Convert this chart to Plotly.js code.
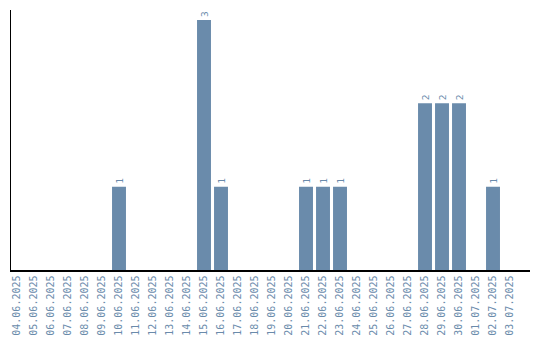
<!DOCTYPE html>
<html><head><meta charset="utf-8">
<script src="https://cdn.plot.ly/plotly-3.0.1.min.js"></script>
<style>html,body{margin:0;padding:0;background:#fff}#c{width:540px;height:340px}</style>
</head><body><div id="c"></div>
<script>
const dates = ["04.06.2025","05.06.2025","06.06.2025","07.06.2025","08.06.2025","09.06.2025","10.06.2025","11.06.2025","12.06.2025","13.06.2025","14.06.2025","15.06.2025","16.06.2025","17.06.2025","18.06.2025","19.06.2025","20.06.2025","21.06.2025","22.06.2025","23.06.2025","24.06.2025","25.06.2025","26.06.2025","27.06.2025","28.06.2025","29.06.2025","30.06.2025","01.07.2025","02.07.2025","03.07.2025"];
const counts = [0,0,0,0,0,0,1,0,0,0,0,3,1,0,0,0,0,1,1,1,0,0,0,0,2,2,2,0,1,0];
const labels = counts.map(v => v > 0 ? String(v) : "");
const color = "#6a8bab";
Plotly.newPlot("c", [{
  type: "bar", x: dates, y: counts, marker: {color: color},
  text: labels, textposition: "outside", textangle: -90, cliponaxis: false,
  textfont: {family: "DejaVu Sans Mono", size: 9.5, color: color},
  hoverinfo: "none"
}], {
  width: 540, height: 340,
  margin: {l: 11, r: 10, t: 10, b: 70},
  paper_bgcolor: "#fff", plot_bgcolor: "#fff",
  bargap: 0.18, showlegend: false,
  xaxis: {type: "category", range: [-0.353, 30.176], tickangle: -90,
    tickfont: {family: "DejaVu Sans Mono", size: 10, color: color},
    showgrid: false, zeroline: false, showline: true, linecolor: "#000", linewidth: 1.5, ticks: ""},
  yaxis: {range: [0, 3.12], showticklabels: false, showgrid: false, zeroline: false,
    showline: true, linecolor: "#000", linewidth: 1.5, ticks: ""}
}, {staticPlot: true});
</script></body></html>
